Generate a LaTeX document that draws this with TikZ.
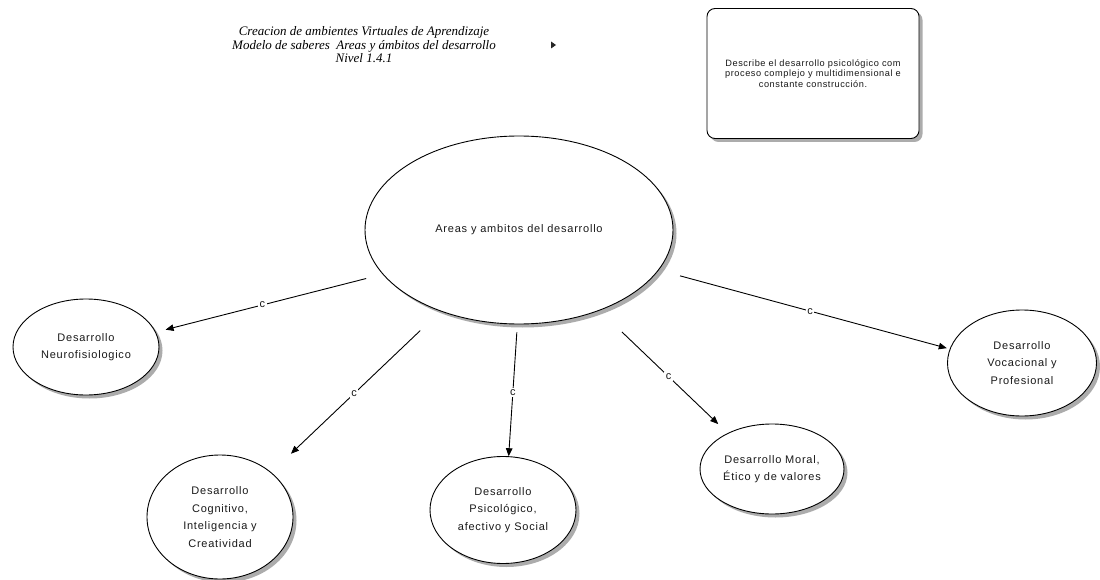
\documentclass[tikz,border=0pt]{standalone}
\usepackage{fontspec}
\setmainfont{Liberation Sans}
\newfontfamily\titlefont{Liberation Serif}
\usetikzlibrary{shapes.geometric,arrows.meta,shadows}

\tikzset{
  softshadow/.style={drop shadow={shadow xshift=3.5pt, shadow yshift=-3.5pt, fill=black!50, opacity=0.65}},
  base/.style={font=\fontsize{11}{17.5}\selectfont\addfontfeatures{LetterSpace=7}, text=black!90},
  topic/.style={base, ellipse, draw, line width=0.9pt, fill=white, inner sep=0pt, align=center, softshadow},
  note/.style={draw, line width=0.9pt, fill=white, rounded corners=8pt, align=center,
    font=\fontsize{9.2}{10.8}\selectfont\addfontfeatures{LetterSpace=6}, text=black!90, softshadow},
  heading/.style={align=center, font=\titlefont\itshape\fontsize{13}{13.5}\selectfont, text=black},
  link/.style={-{Triangle[length=8pt,width=6.5pt]}, line width=0.9pt},
  tag/.style={fill=white, inner sep=1.5pt, font=\fontsize{11}{11}\selectfont, text=black!90}
}

\begin{document}
\begin{tikzpicture}[x=1pt,y=-1pt]
\useasboundingbox[fill=white] (0,0) rectangle (1100,580);

% heading and small pointer mark
\node[heading] (title) at (364,45) {Creacion de ambientes Virtuales de Aprendizaje\\
  Modelo de saberes\ \ Areas y ámbitos del desarrollo\\ Nivel 1.4.1};
\fill[black!85] (551,41.5) -- (556,45) -- (551,48.5) -- cycle;

% description box
\node[note, minimum width=212pt, minimum height=130pt] (desc) at (813,73.5)
  {Describe el desarrollo psicológico com\\ proceso complejo y multidimensional e\\ constante construcción.};

% central topic
\node[topic, minimum width=308pt, minimum height=188pt] (c) at (519,230) {Areas y ambitos del desarrollo};

% areas
\node[topic, minimum width=146pt, minimum height=96pt]  (n1) at (86,347)   {Desarrollo\\Neurofisiologico};
\node[topic, minimum width=146pt, minimum height=124pt] (n2) at (220,517)  {Desarrollo\\Cognitivo,\\Inteligencia y\\Creatividad};
\node[topic, minimum width=146pt, minimum height=107pt] (n3) at (503,510)  {Desarrollo\\Psicológico,\\afectivo y Social};
\node[topic, minimum width=144pt, minimum height=90pt]  (n4) at (772,469)  {Desarrollo Moral,\\Ético y de valores};
\node[topic, minimum width=149pt, minimum height=106pt] (n5) at (1022,363) {Desarrollo\\Vocacional y\\Profesional};

% connectors
\draw[link, shorten <=17pt, shorten >=10pt] (c.198) -- node[tag, pos=0.53] {c} (n1.12);
\draw[link, shorten <=28pt, shorten >=27pt] (c.226) -- node[tag, pos=0.51] {c} (n2.41);
\draw[link, shorten <=8pt]                  (c.269) -- node[tag, pos=0.52] {c} (n3.84);
\draw[link, shorten <=31pt, shorten >=13pt] (c.315) -- node[tag, pos=0.54] {c} (n4.141);
\draw[link, shorten <=22pt, shorten >=3pt]  (c.344) -- node[tag, pos=0.52] {c} (n5.169);
\end{tikzpicture}
\end{document}
